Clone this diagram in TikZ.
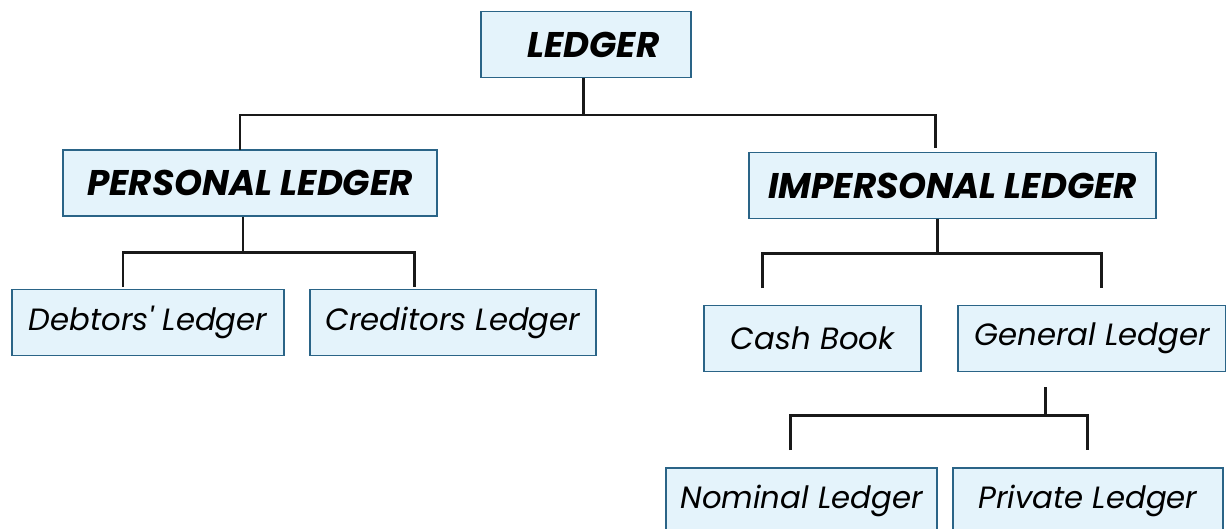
\documentclass[tikz,border=0pt]{standalone}
\usepackage{fontspec}
\setmainfont{Poppins}[Ligatures=TeXOff]
\definecolor{boxfill}{HTML}{E4F3FB}
\definecolor{boxline}{HTML}{2A6487}
\tikzset{
  ledgerbox/.style={draw=boxline, fill=boxfill, line width=1pt,
    inner sep=0pt, minimum height=1.32cm, font=\fontsize{17.5}{20}\selectfont\itshape},
  headbox/.style={ledgerbox, font=\fontsize{20.3}{23}\selectfont\bfseries\itshape},
  link/.style={line width=1.7pt, black!90}
}
\begin{document}
\begin{tikzpicture}[x=0.02cm, y=-0.02cm]
      \useasboundingbox (0,0) rectangle (1226,528);
      % boxes
      \node[headbox, minimum width=4.2cm] (ledger) at (586,44.5) {\hspace*{0.3cm}LEDGER};
      \node[headbox, minimum width=7.48cm] (personal) at (250,183) {PERSONAL LEDGER};
      \node[headbox, minimum width=8.14cm] (impersonal) at (952.5,185.5) {IMPERSONAL LEDGER};
      \node[ledgerbox, minimum width=5.44cm] (debtors) at (148,322.5) {Debtors' Ledger};
      \node[ledgerbox, minimum width=5.72cm] (creditors) at (453,322.5) {Creditors Ledger};
      \node[ledgerbox, minimum width=4.34cm] (cash) at (812.5,338.5) {Cash Book};
      \node[ledgerbox, minimum width=5.36cm] (general) at (1092,338.5) {General Ledger};
      \node[ledgerbox, minimum width=5.42cm] (nominal) at (801.5,501) {Nominal Ledger};
      \node[ledgerbox, minimum width=5.4cm] (private) at (1088,501) {Private Ledger};
      % connectors
      \coordinate (a1) at (583,115);
      \draw[link] (a1 |- ledger.south) -- (a1);
      \draw[link] (240,150) |- (a1) -| (935,148);
      \coordinate (b1) at (243,252);
      \draw[link] (b1 |- personal.south) -- (b1);
      \draw[link] (123,287) |- (b1) -| (414,287);
      \coordinate (c1) at (937,253);
      \draw[link] (c1 |- impersonal.south) -- (c1);
      \draw[link] (762,288) |- (c1) -| (1101,288);
      \coordinate (d1) at (1045,415);
      \draw[link] (1045,387) -- (d1);
      \draw[link] (790,450) |- (d1) -| (1087,450);
\end{tikzpicture}
\end{document}
